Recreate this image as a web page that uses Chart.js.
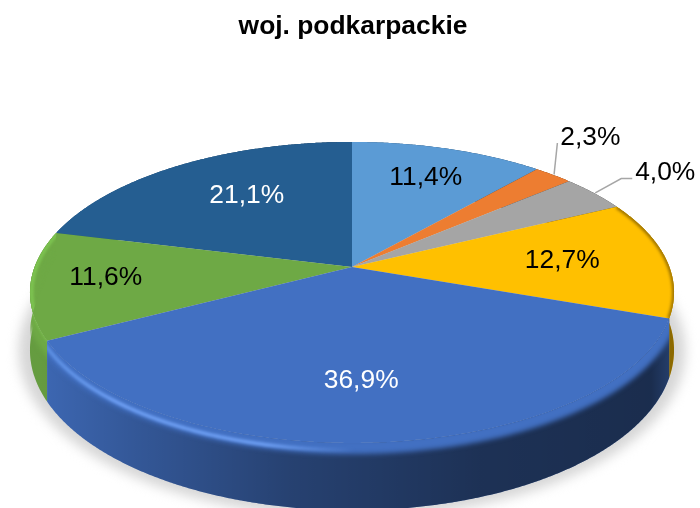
<!DOCTYPE html>
<html lang="pl">
<head>
<meta charset="utf-8">
<title>woj. podkarpackie</title>
<style>html,body{margin:0;padding:0;background:#fff;overflow:hidden}canvas{display:block}</style>
<script src="https://cdn.jsdelivr.net/npm/chart.js@4"></script>
</head>
<body>
<canvas id="c" width="700" height="508"></canvas>
<script>
const chartTitle = 'woj. podkarpackie';
const sliceLabels = ['11,4%', '2,3%', '4,0%', '12,7%', '36,9%', '11,6%', '21,1%'];
const sliceValues = [11.4, 2.3, 4.0, 12.7, 36.9, 11.6, 21.1];
const sliceColors = ['#5b9bd5', '#ed7d31', '#a5a5a5', '#ffc000', '#4270c2', '#6ea945', '#255e91'];
const labelColors = ['#000', '#000', '#000', '#000', '#fff', '#000', '#fff'];

// Perspective of the tilted disc (projective map of the library's arc angles)
const view = { cx: 352, cy: 267, R: 317.4, A: 146.2, k: 0.169, depth: 56 };
function project(t, r, d) {
  const u = r * Math.sin(t), v = -r * Math.cos(t), w = 1 - view.k * v;
  return [view.cx + view.R * u / w, view.cy + view.A * v / w + (d || 0) / w];
}
function rim(ctx, t0, t1, r, d, moveFirst) {
  const n = Math.max(2, Math.ceil(Math.abs(t1 - t0) / 0.006));
  for (let i = 0; i <= n; i++) {
    const p = project(t0 + (t1 - t0) * i / n, r, d);
    if (i === 0 && moveFirst) ctx.moveTo(p[0], p[1]); else ctx.lineTo(p[0], p[1]);
  }
}
function wallPath(ctx, a, b) {
  ctx.beginPath();
  rim(ctx, a, b, 1, 0, true);
  rim(ctx, b, a, 1, view.depth, false);
  ctx.closePath();
}
function topPath(ctx, a, b) {
  ctx.beginPath();
  const h = project(0, 0, 0);
  ctx.moveTo(h[0], h[1]);
  rim(ctx, a, b, 1, 0, false);
  ctx.closePath();
}
function sliceAngles(chart) {
  return chart.getDatasetMeta(0).data.map((arc, i) => ({
    i, a: arc.startAngle + Math.PI / 2, b: arc.endAngle + Math.PI / 2
  }));
}
// Per label: radial factor and angular nudge from the slice's mid angle (degrees)
const labelPlacement = [[0.74, 0], [1.37, -5], [1.33, 0], [0.67, -1], [0.685, 2], [0.77, 2], [0.647, 4]];
const labelLeaders = { 1: [[-33, 6]], 2: [[-44, 7], [-33, 7]] };

const disc3d = {
  id: 'disc3d',
  beforeDatasetDraw(chart) {
    const ctx = chart.ctx, S = sliceAngles(chart);
    ctx.save();
    // soft floor shadow
    ctx.save();
    ctx.filter = 'blur(6px)';
    ctx.fillStyle = '#d6d6d6';
    ctx.translate(352, 335); ctx.scale(1.035, 1.04); ctx.translate(-352, -335);
    ctx.beginPath();
    rim(ctx, 0, Math.PI * 2, 1, view.depth, true);
    ctx.closePath(); ctx.fill();
    ctx.restore();
    // walls, back to front
    const order = S.slice().sort((p, q) =>
      project((p.a + p.b) / 2, 1)[1] - project((q.a + q.b) / 2, 1)[1]);
    const shade = ctx.createLinearGradient(40, 0, 670, 0);
    shade.addColorStop(0, 'rgba(0,0,0,0.08)');
    shade.addColorStop(0.15, 'rgba(0,0,0,0.22)');
    shade.addColorStop(0.4, 'rgba(0,0,0,0.42)');
    shade.addColorStop(0.7, 'rgba(0,0,0,0.56)');
    shade.addColorStop(0.97, 'rgba(0,0,0,0.60)');
    shade.addColorStop(1, 'rgba(0,0,0,0.45)');
    order.forEach(s => {
      wallPath(ctx, s.a, s.b);
      ctx.fillStyle = sliceColors[s.i]; ctx.fill();
      ctx.fillStyle = shade; ctx.fill();
    });
    // top faces
    order.forEach(s => {
      topPath(ctx, s.a, s.b);
      ctx.fillStyle = sliceColors[s.i]; ctx.fill();
    });
    // bevel: the top colour rolls softly over the rim of the front slices
    const light = ctx.createLinearGradient(40, 0, 670, 0);
    light.addColorStop(0, 'rgba(115,170,255,0.55)');
    light.addColorStop(0.12, 'rgba(120,170,255,0.85)');
    light.addColorStop(0.36, 'rgba(120,170,255,0.85)');
    light.addColorStop(0.5, 'rgba(120,170,255,0)');
    light.addColorStop(1, 'rgba(120,170,255,0)');
    order.forEach(s => {
      if (s.i !== 4 && s.i !== 5) return;
      ctx.save();
      ctx.beginPath();
      const h = project(0, 0, 0);
      ctx.moveTo(h[0], h[1]);
      rim(ctx, s.a, s.b, 1, 0, false);
      rim(ctx, s.b, s.a, 1, 40, false);
      const back = project(s.a, 1, 0);
      ctx.lineTo(back[0], back[1]);
      ctx.closePath(); ctx.clip();
      ctx.filter = 'blur(2.5px)';
      ctx.lineWidth = 15;
      ctx.strokeStyle = sliceColors[s.i];
      ctx.beginPath();
      rim(ctx, s.a - 0.1, s.b + 0.1, 1, 3, true);
      ctx.stroke();
      ctx.filter = 'blur(1.5px)';
      ctx.lineWidth = 3.5;
      ctx.strokeStyle = s.i === 4 ? light : 'rgba(130,205,85,0.85)';
      ctx.beginPath();
      rim(ctx, s.a - 0.1, s.b + 0.1, s.i === 4 ? 1 : 0.995, s.i === 4 ? 6 : 0, true);
      ctx.stroke();
      ctx.restore();
    });
    // yellow slice: darker gold edge
    const y = S[3];
    ctx.save();
    topPath(ctx, y.a, y.b); ctx.clip();
    ctx.filter = 'blur(1.5px)';
    ctx.lineWidth = 4;
    ctx.strokeStyle = 'rgba(120,85,0,0.75)';
    ctx.beginPath();
    rim(ctx, y.a, y.b, 1, 0, true);
    ctx.stroke();
    ctx.restore();
    ctx.restore();
    return false;
  },
  afterDatasetsDraw(chart) {
    const ctx = chart.ctx, S = sliceAngles(chart);
    ctx.save();
    ctx.font = '26.4px "Liberation Sans", Arial, sans-serif';
    ctx.textAlign = 'center'; ctx.textBaseline = 'middle';
    S.forEach(s => {
      const mid = (s.a + s.b) / 2, pl = labelPlacement[s.i];
      const p = project(mid + pl[1] * Math.PI / 180, pl[0], 0);
      if (labelLeaders[s.i]) {
        const start = project(mid, 1.005, 0);
        ctx.beginPath();
        ctx.moveTo(start[0], start[1]);
        labelLeaders[s.i].forEach(o => ctx.lineTo(p[0] + o[0], p[1] + o[1]));
        ctx.strokeStyle = '#a6a6a6'; ctx.lineWidth = 1.5; ctx.stroke();
      }
      ctx.fillStyle = labelColors[s.i];
      ctx.fillText(sliceLabels[s.i], p[0], p[1] + 1);
    });
    ctx.restore();
  }
};

new Chart(document.getElementById('c'), {
  type: 'pie',
  data: { labels: sliceLabels, datasets: [{ data: sliceValues, backgroundColor: sliceColors, borderWidth: 0 }] },
  options: {
    responsive: false,
    animation: false,
    layout: { padding: { left: 6 } },
    plugins: {
      legend: { display: false },
      tooltip: { enabled: false },
      title: {
        display: true, text: chartTitle, color: '#000',
        font: { family: '"Liberation Sans", Arial, sans-serif', size: 26.4, weight: 'bold' },
        padding: { top: 11, bottom: 10 }
      }
    }
  },
  plugins: [disc3d]
});
</script>
</body>
</html>
